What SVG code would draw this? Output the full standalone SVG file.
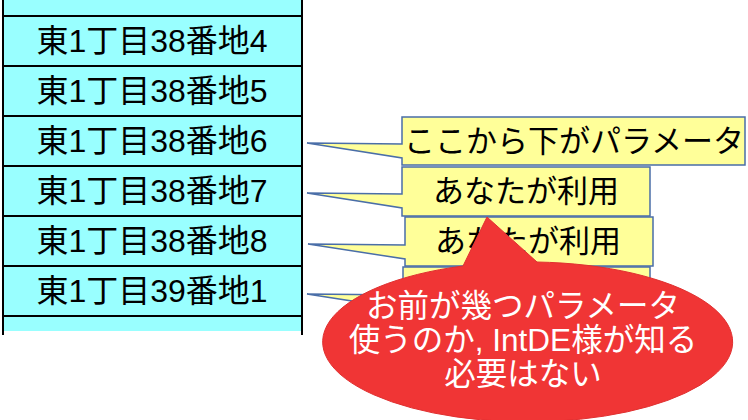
<svg xmlns="http://www.w3.org/2000/svg" width="748" height="420" viewBox="0 0 748 420">
<style>
.row{fill:#99ffff;stroke:#000;stroke-width:2}
.rt{font-family:"Liberation Sans","Noto Sans CJK JP",sans-serif;font-size:32px;fill:#000;text-anchor:middle}
.co{fill:#ffff99;stroke:#4a6ea8;stroke-width:1.5;stroke-linejoin:miter}
.ct{font-family:"Liberation Sans","Noto Sans CJK JP",sans-serif;font-size:31px;fill:#000;text-anchor:middle}
.rc{fill:#f03535;stroke:#e03030;stroke-width:1}
.wt{font-family:"Liberation Sans","Noto Sans CJK JP",sans-serif;font-size:31.5px;fill:#fff;text-anchor:middle}
</style>
<rect x="0" y="0" width="748" height="420" fill="#fff"/>
<g id="table">
<rect x="3" y="-2" width="299" height="18" class="row"/>
<g id="r1"><rect x="3" y="16" width="299" height="50" class="row"/><text x="152" y="52" class="rt">東1丁目38番地4</text></g>
<g id="r2"><rect x="3" y="66" width="299" height="50" class="row"/><text x="152" y="102" class="rt">東1丁目38番地5</text></g>
<g id="r3"><rect x="3" y="116" width="299" height="50" class="row"/><text x="152" y="152" class="rt">東1丁目38番地6</text></g>
<g id="r4"><rect x="3" y="166" width="299" height="50" class="row"/><text x="152" y="202" class="rt">東1丁目38番地7</text></g>
<g id="r5"><rect x="3" y="216" width="299" height="50" class="row"/><text x="152" y="252" class="rt">東1丁目38番地8</text></g>
<g id="r6"><rect x="3" y="266" width="299" height="50" class="row"/><text x="152" y="302" class="rt">東1丁目39番地1</text></g>
<rect x="3" y="316" width="299" height="15" fill="#99ffff"/>
<line x1="3" y1="316" x2="302" y2="316" stroke="#000" stroke-width="2"/>
<line x1="3" y1="316" x2="3" y2="335" stroke="#000" stroke-width="2"/>
<line x1="302" y1="316" x2="302" y2="335" stroke="#000" stroke-width="2"/>
</g>
<g id="connectors">
<g id="callout4"><path class="co" d="M403,267 H650 V316 H403 V309 L307,294 L403,295 Z"/></g>
<g id="callout3"><path class="co" d="M405,217 H653 V266 H405 V259 L308,244 L405,245 Z"/><text x="528" y="252" class="ct">あなたが利用</text></g>
<g id="callout2"><path class="co" d="M402,167 H650 V216 H402 V208 L307,193 L402,194 Z"/><text x="526" y="202" class="ct">あなたが利用</text></g>
<g id="callout1"><path class="co" d="M402,117 H745 V165 H402 V158 L307,143 L402,144 Z"/><text x="574" y="152" class="ct">ここから下がパラメータ</text></g>
</g>
<g id="note">
<path class="rc" d="M463,266 L487,217 L537,262 A205 80 0 1 1 463,266 Z"/>
<text x="523" y="317" class="wt">お前が幾つパラメータ</text>
<text x="523" y="351" class="wt">使うのか, IntDE様が知る</text>
<text x="523" y="385" class="wt">必要はない</text>
</g>
</svg>
